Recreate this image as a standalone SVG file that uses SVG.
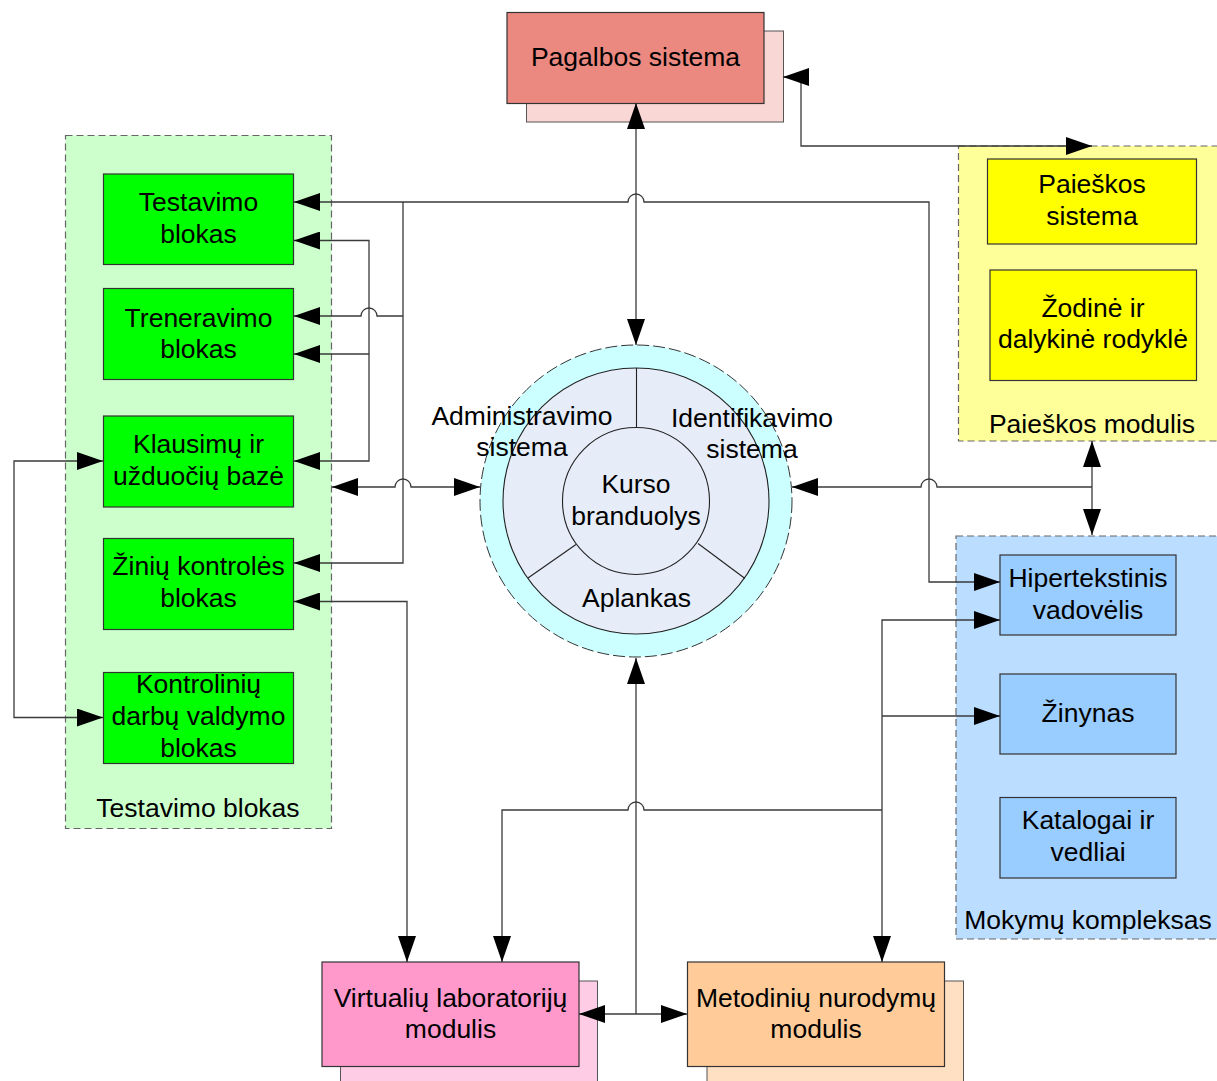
<svg xmlns="http://www.w3.org/2000/svg" width="1217" height="1081" viewBox="0 0 1217 1081">
  <style>
    text { font-family: "Liberation Sans", Arial, sans-serif; font-size: 26.5px; fill: #000; text-anchor: middle; }
    .box { stroke: #333; stroke-width: 1.2; }
    .shadow { stroke: #555; stroke-width: 1; }
    .group { stroke: #666; stroke-width: 1.2; stroke-dasharray: 7 4; }
    .green { fill: #00FF00; }
    .yellow { fill: #FFFF00; }
    .blue { fill: #99CCFF; }
    .conn { fill: none; stroke: #3a3a3a; stroke-width: 1.3; }
    .both { marker-start: url(#arrow); marker-end: url(#arrow); }
    .end { marker-end: url(#arrow); }
    .start { marker-start: url(#arrow); }
  </style>
  <defs>
    <marker id="arrow" markerUnits="userSpaceOnUse" markerWidth="26" markerHeight="18" refX="26" refY="9" orient="auto-start-reverse">
      <path d="M0,0 L26,9 L0,18 z" fill="#000"/>
    </marker>
  </defs>

  <rect width="1217" height="1081" fill="#fff"/>

  <!-- module containers -->
  <g id="testavimo-modulis">
    <rect class="group" x="65.5" y="135.5" width="266" height="693" fill="#CCFFCC"/>
    <text x="198" y="817">Testavimo blokas</text>
  </g>
  <g id="paieskos-modulis">
    <rect class="group" x="958.5" y="146" width="262" height="295" fill="#FFFF99"/>
    <text x="1092" y="433">Paieškos modulis</text>
  </g>
  <g id="mokymu-kompleksas">
    <rect class="group" x="956" y="536" width="264" height="403" fill="#BBDDFF"/>
    <text x="1088" y="929">Mokymų kompleksas</text>
  </g>

  <!-- help system -->
  <g id="pagalbos-sistema">
    <rect class="shadow" x="526.5" y="31" width="257" height="91" fill="#F9D7D4"/>
    <rect class="box" x="507" y="12.5" width="257" height="91" fill="#EB8880"/>
    <text x="635.5" y="66">Pagalbos sistema</text>
  </g>

  <!-- testing blocks -->
  <g id="testavimo-blokas">
    <rect class="box green" x="103.5" y="174" width="190" height="90.5"/>
    <text x="198.5" y="211">Testavimo</text>
    <text x="198.5" y="243">blokas</text>
  </g>
  <g id="treneravimo-blokas">
    <rect class="box green" x="103.5" y="288.5" width="190" height="91"/>
    <text x="198.5" y="327">Treneravimo</text>
    <text x="198.5" y="358">blokas</text>
  </g>
  <g id="klausimu-baze">
    <rect class="box green" x="103.5" y="416" width="190" height="91"/>
    <text x="198.5" y="453">Klausimų ir</text>
    <text x="198.5" y="485">užduočių bazė</text>
  </g>
  <g id="piniu-kontroles-blokas">
    <rect class="box green" x="103.5" y="538.5" width="190" height="91"/>
    <text x="198.5" y="575">Žinių kontrolės</text>
    <text x="198.5" y="607">blokas</text>
  </g>
  <g id="kontroliniu-darbu-blokas">
    <rect class="box green" x="103.5" y="672.5" width="190" height="91"/>
    <text x="198.5" y="693">Kontrolinių</text>
    <text x="198.5" y="725">darbų valdymo</text>
    <text x="198.5" y="757">blokas</text>
  </g>

  <!-- course core -->
  <g id="kurso-branduolys">
    <circle cx="636" cy="501" r="156" fill="#CCFFFF" stroke="#333" stroke-width="1" stroke-dasharray="12 4"/>
    <circle cx="636" cy="501" r="133" fill="#E6ECF8" stroke="#222" stroke-width="1.1"/>
    <circle cx="636" cy="501" r="73.5" fill="#E6ECF8" stroke="#222" stroke-width="1.1"/>
    <line x1="636.5" y1="368" x2="636.5" y2="427.5" stroke="#222" stroke-width="1.1"/>
    <line x1="576" y1="544.5" x2="528" y2="578" stroke="#222" stroke-width="1.1"/>
    <line x1="698" y1="543.5" x2="745" y2="578.5" stroke="#222" stroke-width="1.1"/>
    <text x="522" y="425">Administravimo</text>
    <text x="522" y="456">sistema</text>
    <text x="752" y="427">Identifikavimo</text>
    <text x="752" y="458">sistema</text>
    <text x="636" y="493">Kurso</text>
    <text x="636" y="525">branduolys</text>
    <text x="636.5" y="607">Aplankas</text>
  </g>

  <!-- search module -->
  <g id="paieskos-sistema">
    <rect class="box yellow" x="987.5" y="159" width="209" height="85"/>
    <text x="1092" y="193">Paieškos</text>
    <text x="1092" y="225">sistema</text>
  </g>
  <g id="zodine-rodykle">
    <rect class="box yellow" x="990" y="270" width="206.5" height="110.5"/>
    <text x="1093" y="317">Žodinė ir</text>
    <text x="1093" y="348">dalykinė rodyklė</text>
  </g>

  <!-- learning complex -->
  <g id="hipertekstinis-vadovelis">
    <rect class="box blue" x="1000" y="555" width="176" height="80"/>
    <text x="1088" y="587">Hipertekstinis</text>
    <text x="1088" y="619">vadovėlis</text>
  </g>
  <g id="zinynas">
    <rect class="box blue" x="1000" y="674" width="176" height="80"/>
    <text x="1088" y="722">Žinynas</text>
  </g>
  <g id="katalogai">
    <rect class="box blue" x="1000" y="797.5" width="176" height="80.5"/>
    <text x="1088" y="829">Katalogai ir</text>
    <text x="1088" y="861">vedliai</text>
  </g>

  <!-- bottom modules -->
  <g id="virtualiu-laboratoriju-modulis">
    <rect class="shadow" x="340.5" y="981" width="257" height="110" fill="#FFCCE6"/>
    <rect class="box" x="322" y="962" width="257" height="104.5" fill="#FF99CC"/>
    <text x="450.5" y="1007">Virtualių laboratorijų</text>
    <text x="450.5" y="1038">modulis</text>
  </g>
  <g id="metodiniu-nurodymu-modulis">
    <rect class="shadow" x="707" y="981" width="256.5" height="110" fill="#FFE0C2"/>
    <rect class="box" x="687.5" y="962" width="257" height="104.5" fill="#FFCC99"/>
    <text x="816" y="1007">Metodinių nurodymų</text>
    <text x="816" y="1038">modulis</text>
  </g>

  <!-- connectors, drawn last so arrowheads sit on top of the shapes -->
  <g id="connectors">
    <path class="conn both" d="M636,103 V345"/>
    <path class="conn both" d="M294,202 H628 A8,8 0 0 1 644,202 H929 V582 H1000"/>
    <path class="conn end" d="M403,202 V563 H294"/>
    <path class="conn end" d="M403,316 H377 A8,8 0 0 0 361,316 H294"/>
    <path class="conn both" d="M294,240.5 H369 V461 H294"/>
    <path class="conn end" d="M369,354 H294"/>
    <path class="conn both" d="M332,487 H395 A8,8 0 0 1 411,487 H480"/>
    <path class="conn both" d="M294,601.5 H407 V962"/>
    <path class="conn both" d="M103,461 H14 V717.5 H103"/>
    <path class="conn both" d="M783,77 H801 V146 H1092"/>
    <path class="conn both" d="M1092,441 V535"/>
    <path class="conn end" d="M1092,487 H937 A8,8 0 0 0 921,487 H792"/>
    <path class="conn both" d="M1000,620 H882 V962"/>
    <path class="conn end" d="M882,716 H1000"/>
    <path class="conn end" d="M882,810 H644 A8,8 0 0 0 628,810 H502 V962"/>
    <path class="conn start" d="M636,658 V1014"/>
    <path class="conn both" d="M579,1014 H687"/>
  </g>
</svg>
